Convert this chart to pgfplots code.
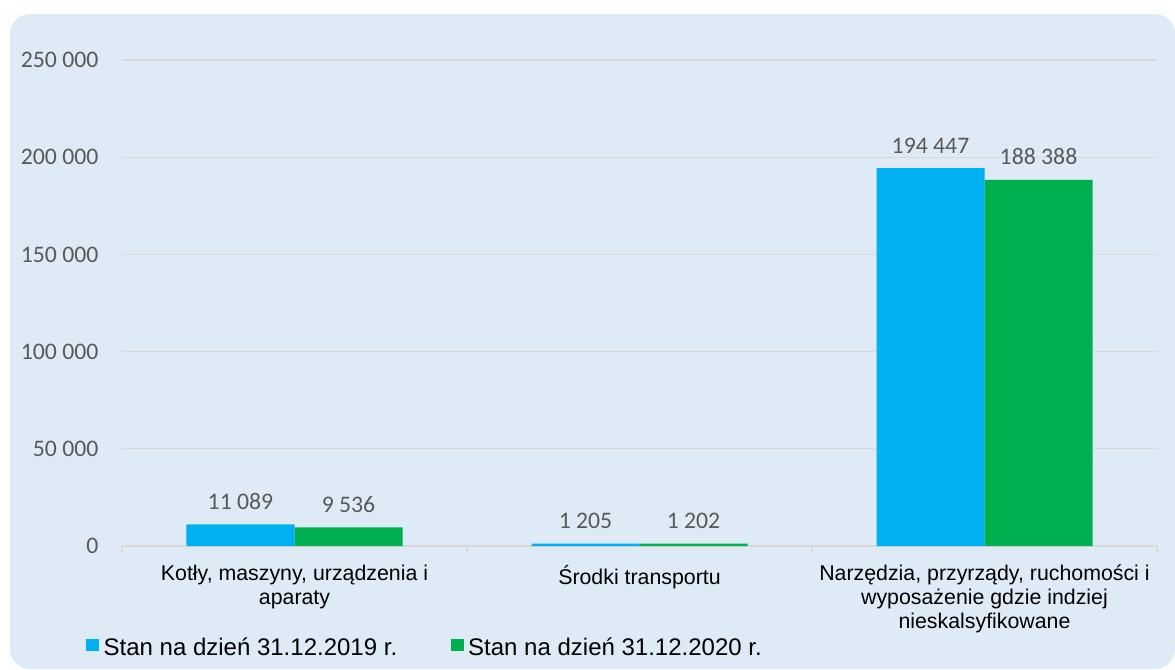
\documentclass[border=0pt]{standalone}
\usepackage{pgfplots}
\pgfplotsset{compat=1.18}
\usepackage{fontspec}
\setmainfont{Liberation Sans}
\newfontfamily\carlito{Carlito}
\definecolor{bg}{HTML}{DEEAF6}
\definecolor{cblue}{HTML}{00B0F0}
\definecolor{cgreen}{HTML}{00B050}
\definecolor{gridc}{HTML}{D9D9D9}
\definecolor{tickc}{HTML}{595959}
\begin{document}
\begin{tikzpicture}
\useasboundingbox (0pt,0pt) rectangle (881.25pt,-501.75pt);
\fill[bg, rounded corners=15pt] (7.5pt,-10.5pt) rectangle (881.25pt,-501.75pt);
\begin{axis}[
  at={(91.5pt,-409.5pt)}, anchor=south west,
  width=776.25pt, height=364.5pt, scale only axis,
  xmin=-0.5, xmax=2.5, ymin=0, ymax=250000,
  ybar=0pt, bar width=81pt,
  xtick={0,1,2},
  minor xtick={-0.5,0.5,1.5,2.5},
  major tick length=0pt, minor tick length=4.5pt, tick align=outside,
  tick style={draw=gridc, line width=1pt},
  xticklabels={{Kotły, maszyny, urządzenia i\\aparaty},{Środki transportu},{Narzędzia, przyrządy, ruchomości i\\wyposażenie gdzie indziej\\nieskalsyfikowane}},
  xticklabel style={font=\fontsize{16}{18.2}\selectfont, align=center, text=black, anchor=north,
    execute at begin node={\rule{0pt}{15pt}}, yshift=-10.5pt},
  ytick={0,50000,100000,150000,200000,250000},
  scaled y ticks=false,
  yticklabel style={font=\carlito\fontsize{17.8}{21}\selectfont, text=tickc, xshift=-14.2pt,
    /pgf/number format/.cd, fixed, 1000 sep={\ }, assume math mode=true},
  ymajorgrids, grid style={draw=gridc, line width=1pt},
  axis lines*=left,
  axis line style={draw=gridc, line width=1pt},
  y axis line style={draw=none},
  nodes near coords,
  nodes near coords style={font=\carlito\fontsize{17.8}{21}\selectfont, text=tickc, anchor=south, yshift=7.6pt,
    /pgf/number format/.cd, fixed, 1000 sep={\ }, assume math mode=true},
  legend style={at={(-0.0348,-0.2099)}, anchor=west, draw=none, fill=none, legend columns=2,
    font=\fontsize{18}{21}\selectfont, inner sep=0pt, outer sep=0pt,
    nodes={inner xsep=3.5pt, inner ysep=0pt},
    /tikz/every even column/.append style={column sep=36.5pt}},
  legend image code/.code={\fill[#1] (0pt,-2.6pt) rectangle (9.75pt,6.4pt);},
]
\addplot[fill=cblue, draw=none] coordinates {(0,11089) (1,1205) (2,194447)};
\addplot[fill=cgreen, draw=none] coordinates {(0,9536) (1,1202) (2,188388)};
\legend{Stan na dzień 31.12.2019 r., Stan na dzień 31.12.2020 r.}
\end{axis}
\end{tikzpicture}
\end{document}
